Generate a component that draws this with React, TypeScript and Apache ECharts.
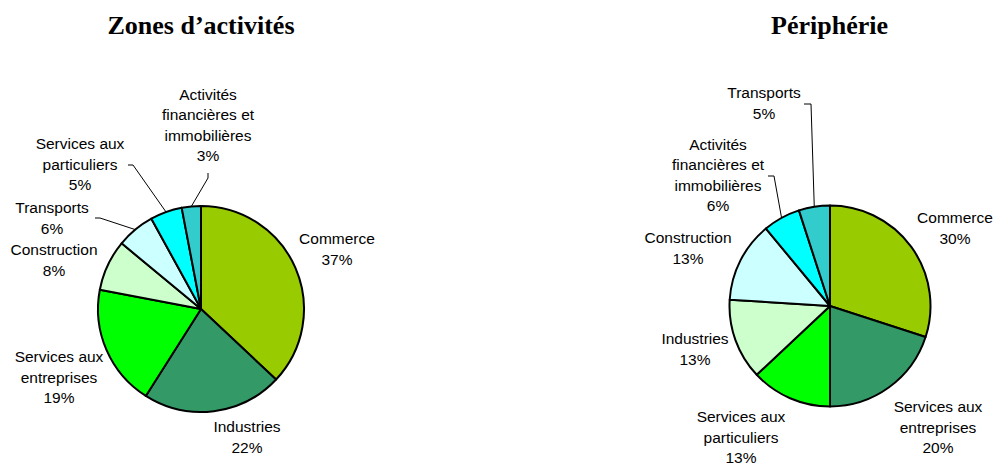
import React, { useEffect, useRef } from "react";
import * as echarts from "echarts";

// ---- Data ----
const leftTitle = "Zones d’activités";
const leftCategories = [
  "Commerce",
  "Industries",
  "Services aux\nentreprises",
  "Construction",
  "Transports",
  "Services aux\nparticuliers",
  "Activités\nfinancières et\nimmobilières",
];
const leftValues = [37, 22, 19, 8, 6, 5, 3];

const rightTitle = "Périphérie";
const rightCategories = [
  "Commerce",
  "Services aux\nentreprises",
  "Services aux\nparticuliers",
  "Industries",
  "Construction",
  "Activités\nfinancières et\nimmobilières",
  "Transports",
];
const rightValues = [30, 20, 13, 13, 13, 6, 5];

// ---- Styles / layout ----
const sliceColors = ["#99CC00", "#339966", "#00FF00", "#CCFFCC", "#CCFFFF", "#00FFFF", "#33CCCC"];

const leftCenter = [201, 309];
const leftRadius = 103;
const rightCenter = [830, 306];
const rightRadius = 100.5;

const leftLabelPos: number[][] = [
  [337, 249],
  [247, 437],
  [59, 377],
  [54, 260],
  [52, 218],
  [80, 164],
  [208, 125],
];
const leftGuides: (number[][] | null)[] = [
  null,
  null,
  null,
  null,
  [[100, 218], [95, 218]],
  [[133, 165], [128, 165]],
  [[208, 178], [208, 173]],
];

const rightLabelPos: number[][] = [
  [955, 228],
  [938, 427],
  [741, 437],
  [695, 349],
  [688, 248],
  [718, 175],
  [764, 103],
];
const rightGuides: (number[][] | null)[] = [
  null,
  null,
  null,
  null,
  null,
  [[774, 176], [768, 176]],
  [[811, 104], [804, 104]],
];

function buildSeries(
  categories: string[],
  values: number[],
  center: number[],
  radius: number,
  labelPos: number[][],
  guides: (number[][] | null)[]
) {
  return {
    type: "pie",
    center,
    radius,
    startAngle: 90,
    clockwise: true,
    avoidLabelOverlap: false,
    silent: true,
    itemStyle: { borderColor: "#000", borderWidth: 2 },
    label: {
      show: true,
      position: "outside",
      formatter: "{b}\n{c}%",
      fontFamily: "Liberation Sans, Arial, sans-serif",
      fontSize: 15.5,
      lineHeight: 20.5,
      color: "#000",
    },
    labelLine: { show: true, lineStyle: { color: "#000", width: 1 }, smooth: false },
    labelLayout: (p: any) => {
      const pos = labelPos[p.dataIndex];
      const res: any = {
        x: pos[0],
        y: pos[1],
        align: "center",
        verticalAlign: "middle",
        hideOverlap: false,
      };
      const g = guides[p.dataIndex];
      if (g && p.labelLinePoints) {
        res.labelLinePoints = [p.labelLinePoints[0], g[0], g[1]];
      }
      return res;
    },
    emphasis: { disabled: true },
    data: categories.map((name, i) => ({
      name,
      value: values[i],
      itemStyle: { color: sliceColors[i] },
      labelLine: { show: guides[i] != null },
    })),
  };
}

export default function App() {
  const ref = useRef<HTMLDivElement>(null);
  useEffect(() => {
    if (!ref.current) return;
    const chart = echarts.init(ref.current, undefined, { renderer: "svg" });
    chart.setOption({
      animation: false,
      backgroundColor: "#fff",
      graphic: [
        {
          type: "text",
          x: 201,
          y: 25.5,
          style: {
            text: leftTitle,
            font: "bold 26px 'Liberation Serif', 'Times New Roman', serif",
            fill: "#000",
            align: "center",
            verticalAlign: "middle",
          },
        },
        {
          type: "text",
          x: 829.5,
          y: 25.5,
          style: {
            text: rightTitle,
            font: "bold 26px 'Liberation Serif', 'Times New Roman', serif",
            fill: "#000",
            align: "center",
            verticalAlign: "middle",
          },
        },
      ],
      series: [
        buildSeries(leftCategories, leftValues, leftCenter, leftRadius, leftLabelPos, leftGuides),
        buildSeries(rightCategories, rightValues, rightCenter, rightRadius, rightLabelPos, rightGuides),
      ],
    });
    return () => chart.dispose();
  }, []);
  return (
    <div
      ref={ref}
      style={{ position: "fixed", left: 0, top: 0, width: 996, height: 463, background: "#fff" }}
    />
  );
}
